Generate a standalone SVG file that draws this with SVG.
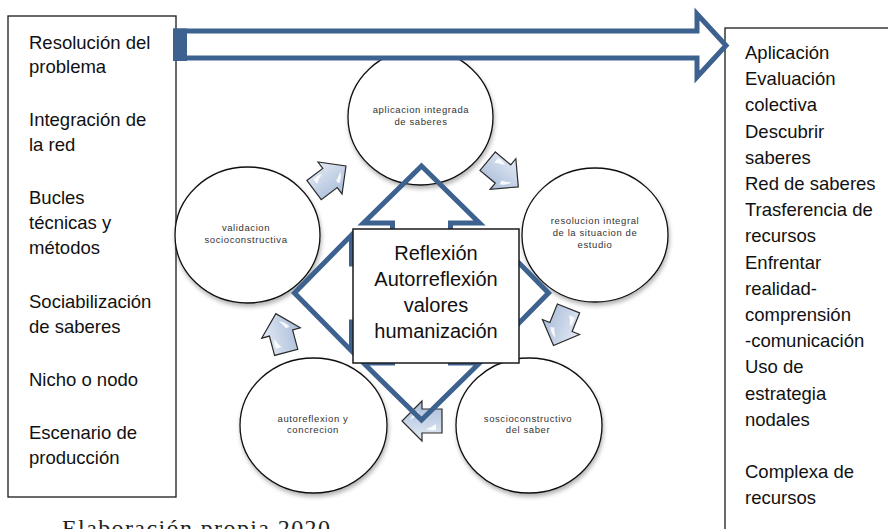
<svg xmlns="http://www.w3.org/2000/svg" width="888" height="529" viewBox="0 0 888 529">
<style>
.box{fill:#fff;stroke:#1a1a1a;stroke-width:1.3}
.lst{font-family:"Liberation Sans",Arial,sans-serif;font-size:18.5px;fill:#111}
.circ{fill:#fff;stroke:#111;stroke-width:1.3;filter:url(#sh)}
.ct{font-family:"Liberation Sans",Arial,sans-serif;font-size:9.5px;letter-spacing:0.6px;fill:#333;text-anchor:middle}
.blue{fill:none;stroke:#3d6290;stroke-width:5;stroke-linejoin:miter}
.sa{fill:url(#lg);stroke:#2a2a2a;stroke-width:1.2;stroke-linejoin:miter}
.hl{fill:#fff;opacity:0.85}
.cen{font-family:"Liberation Sans",Arial,sans-serif;font-size:20px;fill:#111;text-anchor:middle}
</style>
<defs>
<filter id="sh" x="-20%" y="-20%" width="140%" height="140%">
<feDropShadow dx="1" dy="3" stdDeviation="2" flood-color="#000" flood-opacity="0.3"/>
</filter>
<linearGradient id="lg" x1="0" y1="0" x2="0" y2="1">
<stop offset="0" stop-color="#e3eaf4"/>
<stop offset="1" stop-color="#a9bcd9"/>
</linearGradient>
<g id="sarr">
<path class="sa" d="M-20,-12 L0,-12 L0,-20 L20,0 L0,20 L0,12 L-20,12 Z"/>
<path class="hl" d="M-14,-9 Q-8,-10 -4,-8 Q-10,-6 -14,-3 Z"/>
<path class="hl" d="M3,6 Q8,4 12,1 Q10,7 4,10 Z"/>
</g>
</defs>
<rect width="888" height="529" fill="#fff"/>

<g id="left-box">
<rect class="box" x="8" y="16" width="168" height="481"/>
<text class="lst" x="29" y="49">Resolución del</text>
<text class="lst" x="29" y="73">problema</text>
<text class="lst" x="29" y="126">Integración de</text>
<text class="lst" x="29" y="151">la red</text>
<text class="lst" x="29" y="204">Bucles</text>
<text class="lst" x="29" y="229">técnicas y</text>
<text class="lst" x="29" y="254">métodos</text>
<text class="lst" x="29" y="308">Sociabilización</text>
<text class="lst" x="29" y="333">de saberes</text>
<text class="lst" x="29" y="386">Nicho o nodo</text>
<text class="lst" x="29" y="439">Escenario de</text>
<text class="lst" x="29" y="464">producción</text>
</g>

<g id="right-box">
<rect class="box" x="725" y="28" width="200" height="560"/>
<text class="lst" x="745" y="59">Aplicación</text>
<text class="lst" x="745" y="85">Evaluación</text>
<text class="lst" x="745" y="111">colectiva</text>
<text class="lst" x="745" y="138">Descubrir</text>
<text class="lst" x="745" y="164">saberes</text>
<text class="lst" x="745" y="190">Red de saberes</text>
<text class="lst" x="745" y="216">Trasferencia de</text>
<text class="lst" x="745" y="242">recursos</text>
<text class="lst" x="745" y="269">Enfrentar</text>
<text class="lst" x="745" y="295">realidad-</text>
<text class="lst" x="745" y="321">comprensión</text>
<text class="lst" x="745" y="347">-comunicación</text>
<text class="lst" x="745" y="373">Uso de</text>
<text class="lst" x="745" y="400">estrategia</text>
<text class="lst" x="745" y="426">nodales</text>
<text class="lst" x="745" y="478">Complexa de</text>
<text class="lst" x="745" y="504">recursos</text>
</g>

<g id="c-aplicacion">
<ellipse class="circ" cx="420.5" cy="117" rx="72.5" ry="68"/>
<text class="ct" x="421" y="113">aplicacion integrada</text>
<text class="ct" x="421" y="125">de saberes</text>
</g>
<g id="c-resolucion">
<ellipse class="circ" cx="595" cy="235" rx="73" ry="67"/>
<text class="ct" x="595" y="224">resolucion integral</text>
<text class="ct" x="595" y="236">de la situacion de</text>
<text class="ct" x="595" y="248">estudio</text>
</g>
<g id="c-validacion">
<ellipse class="circ" cx="247.5" cy="235" rx="72.5" ry="68"/>
<text class="ct" x="246" y="231">validacion</text>
<text class="ct" x="246" y="243">socioconstructiva</text>
</g>
<g id="c-autoreflexion">
<ellipse class="circ" cx="313.5" cy="425.5" rx="73.5" ry="67.5"/>
<text class="ct" x="313" y="422">autoreflexion y</text>
<text class="ct" x="313" y="433">concrecion</text>
</g>
<g id="c-soscio">
<ellipse class="circ" cx="529" cy="425.5" rx="73" ry="67.5"/>
<text class="ct" x="528" y="422">soscioconstructivo</text>
<text class="ct" x="528" y="433">del saber</text>
</g>

<g id="connectors">
<use href="#sarr" transform="translate(330,178) rotate(-37)"/>
<use href="#sarr" transform="translate(503,174) rotate(40)"/>
<use href="#sarr" transform="translate(561,327) rotate(112)"/>
<use href="#sarr" transform="translate(422,421) rotate(180)"/>
<use href="#sarr" transform="translate(281,333) rotate(-105)"/>
<path class="blue" d="M421.5,166 L479.5,223 L450.5,223 L450.5,264 L491.5,264 L491.5,235 L548.5,293 L491.5,351 L491.5,322 L450.5,322 L450.5,363 L479.5,363 L421.5,420 L363.5,363 L392.5,363 L392.5,322 L351.5,322 L351.5,351 L294.5,293 L351.5,235 L351.5,264 L392.5,264 L392.5,223 L363.5,223 Z"/>
<path class="blue" fill="#fff" style="fill:#fff" d="M176,31 L697,31 L697,14 L726,45.5 L697,77 L697,58 L176,58 Z"/>
<rect x="173" y="28.5" width="14" height="32.5" fill="#3d6290"/>
</g>

<g id="center">
<rect class="box" x="353" y="229" width="166" height="134" style="stroke-width:1.5"/>
<text class="cen" x="436" y="260">Reflexión</text>
<text class="cen" x="436" y="286">Autorreflexión</text>
<text class="cen" x="436" y="312">valores</text>
<text class="cen" x="436" y="338">humanización</text>
</g>

<text x="62" y="536" font-family="'Liberation Serif','Times New Roman',serif" font-size="24" fill="#222" textLength="268" lengthAdjust="spacing">Elaboración propia 2020</text>
</svg>
